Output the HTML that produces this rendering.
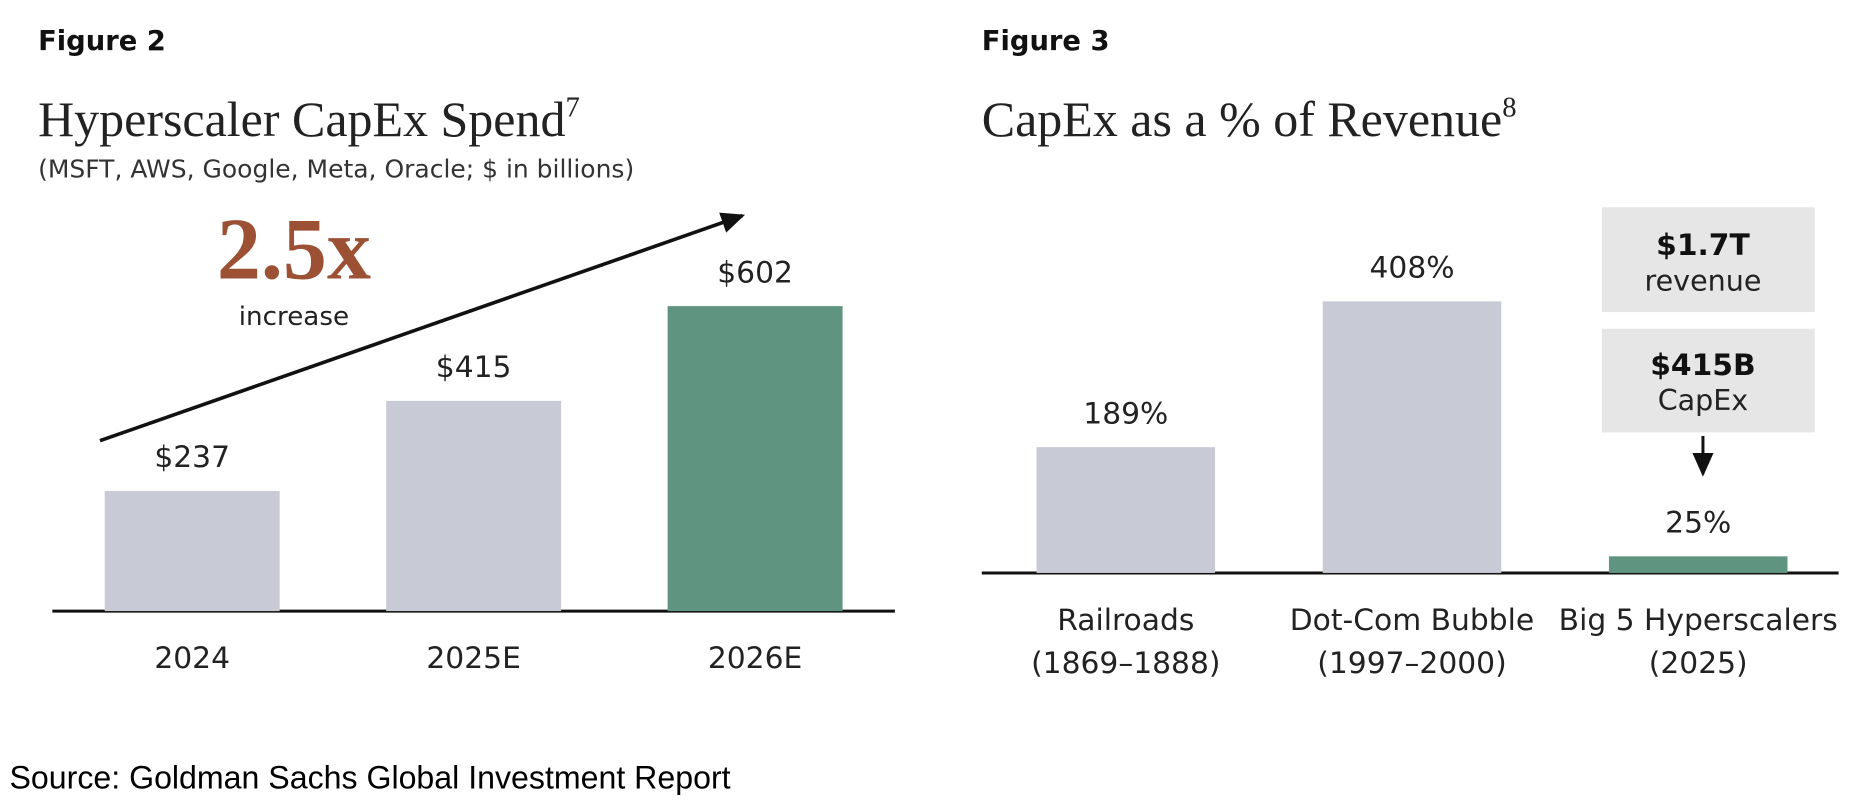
<!DOCTYPE html>
<html><head><meta charset="utf-8"><style>
html,body{margin:0;padding:0;background:#fff;width:1866px;height:810px;overflow:hidden}
svg{display:block}
.sans{font-family:"DejaVu Sans","Liberation Sans",sans-serif}
.serif{font-family:"Liberation Serif",serif}
</style></head><body>
<svg id="chart" width="1866" height="810" viewBox="0 0 1568 680" preserveAspectRatio="none" xmlns="http://www.w3.org/2000/svg">
<defs><marker id="ah" markerWidth="20" markerHeight="20" refX="16" refY="8" orient="auto" markerUnits="userSpaceOnUse" viewBox="0 0 18 16"><path d="M0,0 L18,8 L0,16 z" fill="#111"/></marker></defs>
<text class="sans" x="32" y="42" font-size="23" font-weight="bold" fill="#111">Figure 2</text>
<text class="serif" x="32" y="114" font-size="42" fill="#222">Hyperscaler CapEx Spend<tspan font-size="24" dy="-16">7</tspan></text>
<text class="sans" x="32" y="149" font-size="21" fill="#333">(MSFT, AWS, Google, Meta, Oracle; $ in billions)</text>
<line x1="84" y1="370" x2="624" y2="181" stroke="#111" stroke-width="3" marker-end="url(#ah)"/>
<text class="serif" x="247" y="234" font-size="74" font-weight="bold" fill="#9c5135" text-anchor="middle">2.5x</text>
<text class="sans" x="247" y="273" font-size="22" fill="#222" text-anchor="middle">increase</text>
<g id="left"></g>
<text class="sans" x="825" y="42" font-size="23" font-weight="bold" fill="#111">Figure 3</text>
<text class="serif" x="825" y="114" font-size="42" fill="#222">CapEx as a % of Revenue<tspan font-size="24" dy="-16">8</tspan></text>
<g id="right"></g>
<rect x="1346" y="174" width="179" height="88" fill="#e6e6e6"/>
<text class="sans" x="1431" y="214" font-size="25" font-weight="bold" fill="#111" text-anchor="middle">$1.7T</text>
<text class="sans" x="1431" y="244" font-size="24" fill="#222" text-anchor="middle">revenue</text>
<rect x="1346" y="276" width="179" height="87" fill="#e6e6e6"/>
<text class="sans" x="1431" y="315" font-size="25" font-weight="bold" fill="#111" text-anchor="middle">$415B</text>
<text class="sans" x="1431" y="344" font-size="24" fill="#222" text-anchor="middle">CapEx</text>
<line x1="1431" y1="366" x2="1431" y2="398" stroke="#111" stroke-width="2.5" marker-end="url(#ah)"/>
<text font-family="Liberation Sans, sans-serif" x="8" y="662" font-size="27" fill="#000">Source: Goldman Sachs Global Investment Report</text>
</svg>
<script>
const leftCategories = ["2024", "2025E", "2026E"];
const leftValues = [237, 415, 602];
const leftLabels = ["$237", "$415", "$602"];
const rightCategories = [["Railroads", "(1869\u20131888)"], ["Dot-Com Bubble", "(1997\u20132000)"], ["Big 5 Hyperscalers", "(2025)"]];
const rightValues = [189, 408, 25];
const rightLabels = ["189%", "408%", "25%"];

const NS = "http://www.w3.org/2000/svg";
function mk(tag, attrs, parent) {
  const e = document.createElementNS(NS, tag);
  for (const k in attrs) e.setAttribute(k, attrs[k]);
  parent.appendChild(e);
  return e;
}
function drawChart(g, cats, vals, labels, cfg) {
  const yScale = v => cfg.base - v * cfg.k;
  const xCenter = i => cfg.x0 + i * cfg.step;
  const axis = mk("line", {x1: cfg.ax1, x2: cfg.ax2, y1: cfg.base, y2: cfg.base, stroke: "#111", "stroke-width": 2.5}, g);
  
  
  vals.forEach((v, i) => {
    const cx = xCenter(i), top = yScale(v);
    const r = mk("rect", {x: cx - cfg.w / 2, y: top, width: cfg.w, height: cfg.base - top, fill: i === cfg.hi ? "#5f9580" : "#c8cad5"}, g);
    
    
    const t = mk("text", {x: cx, y: top - 20, "font-size": 25, fill: "#222", "text-anchor": "middle", "class": "sans"}, g);
    t.textContent = labels[i];
    
    
    const lines = Array.isArray(cats[i]) ? cats[i] : [cats[i]];
    lines.forEach((ln, j) => {
      const c = mk("text", {x: cx, y: cfg.base + cfg.catDy + j * 36, "font-size": 25, fill: "#222", "text-anchor": "middle", "class": "sans"}, g);
      c.textContent = ln;
      
      
    });
  });
}
drawChart(document.getElementById("left"), leftCategories, leftValues, leftLabels,
  {prefix: "left", base: 513, k: 256 / 602, x0: 161.5, step: 236.5, w: 147, hi: 2, ax1: 44, ax2: 752, catDy: 48});
drawChart(document.getElementById("right"), rightCategories, rightValues, rightLabels,
  {prefix: "right", base: 481, k: 228 / 408, x0: 946, step: 240.5, w: 150, hi: 2, ax1: 825, ax2: 1545, catDy: 48});
</script>
</body></html>
